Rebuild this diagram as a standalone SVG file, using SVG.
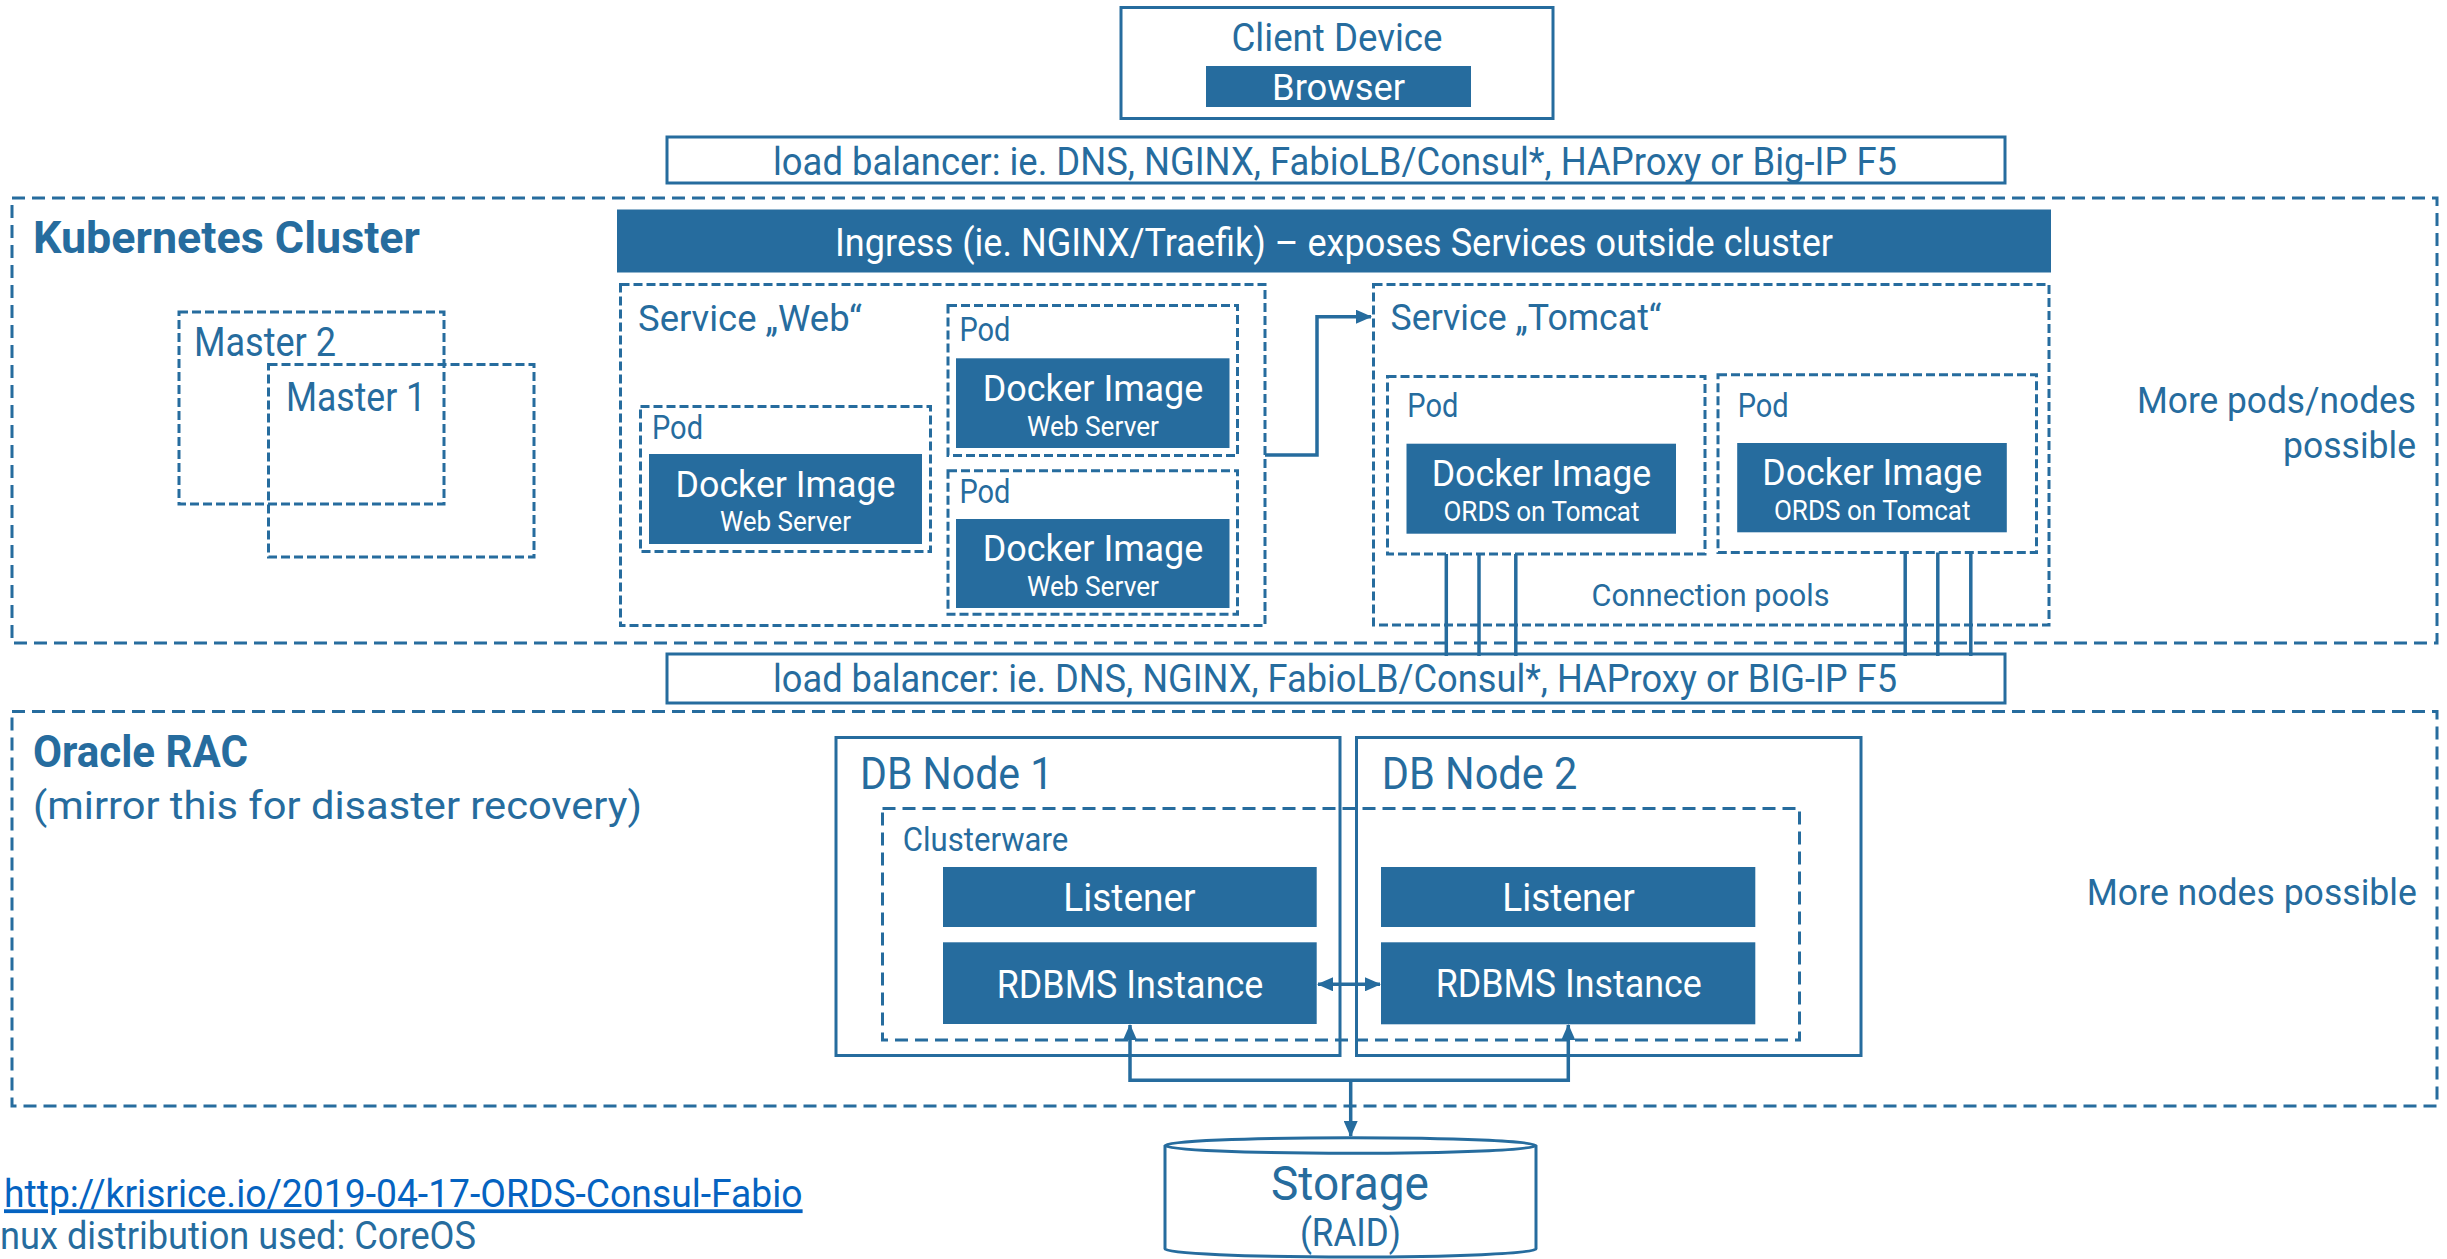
<svg xmlns="http://www.w3.org/2000/svg" width="2447" height="1259" viewBox="0 0 2447 1259">
<style>
.dl{fill:none;stroke:#266c9e;stroke-width:3;stroke-dasharray:13 7}
.ds{fill:none;stroke:#266c9e;stroke-width:3;stroke-dasharray:9 4}
.so{fill:none;stroke:#266c9e;stroke-width:3}
.bx{fill:#266c9e}
.t{font-family:Roboto,"Open Sans","Liberation Sans",sans-serif;fill:#266c9e}
.w{fill:#ffffff}
.b{font-weight:bold}
.m{text-anchor:middle}
.e{text-anchor:end}
.cn{fill:none;stroke:#266c9e;stroke-width:3.5}
</style>
<defs>
<marker id="ah" viewBox="0 0 16 14" refX="15" refY="7" markerWidth="16" markerHeight="14" markerUnits="userSpaceOnUse" orient="auto-start-reverse">
<path d="M0,0 L16,7 L0,14 z" fill="#266c9e"/>
</marker>
</defs>
<rect width="2447" height="1259" fill="#ffffff"/>

<g id="client-device">
<rect class="so" x="1121" y="7.5" width="432" height="111"/>
<text class="t m" x="1337" y="51" font-size="38" textLength="211" lengthAdjust="spacingAndGlyphs">Client Device</text>
<rect class="bx" x="1206" y="66" width="265" height="41"/>
<text class="t w m" x="1338.5" y="100" font-size="37" textLength="133" lengthAdjust="spacingAndGlyphs">Browser</text>
</g>

<g id="lb-top">
<rect class="so" x="667" y="137" width="1338" height="46"/>
<text class="t m" x="1335" y="175" font-size="39" textLength="1124" lengthAdjust="spacingAndGlyphs">load balancer: ie. DNS, NGINX, FabioLB/Consul*, HAProxy or Big-IP F5</text>
</g>

<g id="kubernetes-cluster">
<rect class="dl" x="12" y="198" width="2425" height="445"/>
<text class="t b" x="33" y="253" font-size="44" textLength="387" lengthAdjust="spacingAndGlyphs">Kubernetes Cluster</text>
<text class="t e" x="2416" y="413" font-size="36.5" textLength="279" lengthAdjust="spacingAndGlyphs">More pods/nodes</text>
<text class="t e" x="2416" y="458" font-size="36.5" textLength="133" lengthAdjust="spacingAndGlyphs">possible</text>
</g>

<g id="ingress">
<rect class="bx" x="617" y="209.5" width="1434" height="63"/>
<text class="t w m" x="1334" y="256" font-size="39" textLength="998" lengthAdjust="spacingAndGlyphs">Ingress (ie. NGINX/Traefik) – exposes Services outside cluster</text>
</g>

<g id="master-2">
<rect class="ds" x="179" y="312" width="265" height="192"/>
<text class="t" x="194" y="356" font-size="40" textLength="142" lengthAdjust="spacingAndGlyphs">Master 2</text>
</g>
<g id="master-1">
<rect class="ds" x="268.5" y="364.5" width="265.5" height="192.5"/>
<text class="t" x="286" y="411" font-size="40" textLength="140" lengthAdjust="spacingAndGlyphs">Master 1</text>
</g>

<g id="service-web">
<rect class="ds" x="620.5" y="284.5" width="644.5" height="341"/>
<text class="t" x="638" y="330.5" font-size="37.5" textLength="224" lengthAdjust="spacingAndGlyphs">Service „Web“</text>
</g>

<g id="web-pod-left">
<rect class="ds" x="640.5" y="406.5" width="290" height="145"/>
<text class="t" x="652" y="438.7" font-size="33" textLength="51" lengthAdjust="spacingAndGlyphs">Pod</text>
<rect class="bx" x="649" y="454" width="273" height="90"/>
<text class="t w m" x="785.5" y="496.5" font-size="37.5" textLength="220" lengthAdjust="spacingAndGlyphs">Docker Image</text>
<text class="t w m" x="785.5" y="531.4" font-size="27" textLength="131" lengthAdjust="spacingAndGlyphs">Web Server</text>
</g>

<g id="web-pod-top">
<rect class="ds" x="948" y="305.5" width="289.5" height="150"/>
<text class="t" x="959.4" y="340.7" font-size="33" textLength="51" lengthAdjust="spacingAndGlyphs">Pod</text>
<rect class="bx" x="956" y="358.3" width="273.5" height="89.7"/>
<text class="t w m" x="1093" y="400.7" font-size="37.5" textLength="220.6" lengthAdjust="spacingAndGlyphs">Docker Image</text>
<text class="t w m" x="1093" y="435.7" font-size="27" textLength="132" lengthAdjust="spacingAndGlyphs">Web Server</text>
</g>

<g id="web-pod-bottom">
<rect class="ds" x="948" y="470.7" width="289.5" height="143.5"/>
<text class="t" x="959.4" y="502.7" font-size="33" textLength="51" lengthAdjust="spacingAndGlyphs">Pod</text>
<rect class="bx" x="956" y="519" width="273.5" height="89"/>
<text class="t w m" x="1093" y="561.4" font-size="37.5" textLength="220.6" lengthAdjust="spacingAndGlyphs">Docker Image</text>
<text class="t w m" x="1093" y="596.4" font-size="27" textLength="132" lengthAdjust="spacingAndGlyphs">Web Server</text>
</g>

<g id="service-tomcat">
<rect class="ds" x="1373.5" y="284.5" width="675.5" height="340.5"/>
<text class="t" x="1390.5" y="330" font-size="37.5" textLength="271" lengthAdjust="spacingAndGlyphs">Service „Tomcat“</text>
<text class="t m" x="1710.5" y="606" font-size="32" textLength="238" lengthAdjust="spacingAndGlyphs">Connection pools</text>
</g>

<g id="tomcat-pod-1">
<rect class="ds" x="1387.5" y="376.5" width="317.5" height="177.5"/>
<text class="t" x="1407.3" y="416.7" font-size="33" textLength="51" lengthAdjust="spacingAndGlyphs">Pod</text>
<rect class="bx" x="1406.5" y="443.7" width="269.5" height="90"/>
<text class="t w m" x="1541.5" y="486" font-size="37.5" textLength="219.6" lengthAdjust="spacingAndGlyphs">Docker Image</text>
<text class="t w m" x="1541.5" y="521" font-size="27" textLength="196" lengthAdjust="spacingAndGlyphs">ORDS on Tomcat</text>
</g>

<g id="tomcat-pod-2">
<rect class="ds" x="1718" y="374.7" width="318.5" height="177.8"/>
<text class="t" x="1737.7" y="416.7" font-size="33" textLength="51" lengthAdjust="spacingAndGlyphs">Pod</text>
<rect class="bx" x="1737.2" y="443" width="269.6" height="89.3"/>
<text class="t w m" x="1872.2" y="485.3" font-size="37.5" textLength="220" lengthAdjust="spacingAndGlyphs">Docker Image</text>
<text class="t w m" x="1872.2" y="520.3" font-size="27" textLength="196.6" lengthAdjust="spacingAndGlyphs">ORDS on Tomcat</text>
</g>

<g id="lb-bottom">
<rect class="so" x="667" y="654" width="1338" height="49"/>
<text class="t m" x="1335" y="692" font-size="39" textLength="1124" lengthAdjust="spacingAndGlyphs">load balancer: ie. DNS, NGINX, FabioLB/Consul*, HAProxy or BIG-IP F5</text>
</g>

<g id="oracle-rac">
<rect class="dl" x="12" y="711.5" width="2425" height="394.5"/>
<text class="t b" x="33" y="767" font-size="44" textLength="215" lengthAdjust="spacingAndGlyphs">Oracle RAC</text>
<text class="t" x="33" y="818.5" font-size="38" textLength="609" lengthAdjust="spacingAndGlyphs">(mirror this for disaster recovery)</text>
<text class="t e" x="2416.8" y="905.3" font-size="36.5" textLength="330" lengthAdjust="spacingAndGlyphs">More nodes possible</text>
</g>

<g id="db-node-1">
<rect class="so" x="836" y="737.5" width="504" height="318"/>
<text class="t" x="860" y="789.3" font-size="45" textLength="193.3" lengthAdjust="spacingAndGlyphs">DB Node 1</text>
</g>
<g id="db-node-2">
<rect class="so" x="1356.5" y="737.5" width="504.5" height="318"/>
<text class="t" x="1381.7" y="789.3" font-size="45" textLength="195.6" lengthAdjust="spacingAndGlyphs">DB Node 2</text>
</g>

<g id="clusterware">
<rect class="dl" x="882.5" y="808.5" width="917" height="231.5"/>
<text class="t" x="902.7" y="850.7" font-size="33.5" textLength="165.6" lengthAdjust="spacingAndGlyphs">Clusterware</text>
</g>

<g id="listener-1">
<rect class="bx" x="943" y="867" width="373.7" height="60"/>
<text class="t w m" x="1129.5" y="911" font-size="39" textLength="132.3" lengthAdjust="spacingAndGlyphs">Listener</text>
</g>
<g id="rdbms-1">
<rect class="bx" x="943" y="942.3" width="373.7" height="81.7"/>
<text class="t w m" x="1130" y="997.7" font-size="38" textLength="266.6" lengthAdjust="spacingAndGlyphs">RDBMS Instance</text>
</g>
<g id="listener-2">
<rect class="bx" x="1381" y="867" width="374.3" height="60"/>
<text class="t w m" x="1568.5" y="911" font-size="39" textLength="132.4" lengthAdjust="spacingAndGlyphs">Listener</text>
</g>
<g id="rdbms-2">
<rect class="bx" x="1381" y="942.3" width="374.3" height="82"/>
<text class="t w m" x="1568.7" y="997.3" font-size="38" textLength="266" lengthAdjust="spacingAndGlyphs">RDBMS Instance</text>
</g>

<g id="storage">
<path d="M1165,1145.5 L1165,1249 A185.5,8 0 0 0 1536,1249 L1536,1145.5" fill="#ffffff" stroke="#266c9e" stroke-width="3"/>
<ellipse cx="1350.5" cy="1145.5" rx="185.5" ry="7.8" fill="#ffffff" stroke="#266c9e" stroke-width="3"/>
<text class="t m" x="1350" y="1200" font-size="49" textLength="158" lengthAdjust="spacingAndGlyphs">Storage</text>
<text class="t m" x="1350.4" y="1246" font-size="38" textLength="101" lengthAdjust="spacingAndGlyphs">(RAID)</text>
</g>

<g id="notes">
<text x="4" y="1207.3" font-size="38" textLength="798.6" lengthAdjust="spacingAndGlyphs" style="font-family:Roboto,'Open Sans','Liberation Sans',sans-serif;fill:#0563c1;text-decoration:underline">http://krisrice.io/2019-04-17-ORDS-Consul-Fabio</text>
<text class="t" x="0" y="1249.3" font-size="38" textLength="476" lengthAdjust="spacingAndGlyphs">nux distribution used: CoreOS</text>
</g>

<g id="connectors">
<path class="cn" d="M1265,455 H1317 V316.7 H1371" marker-end="url(#ah)"/>
<path class="cn" d="M1446.3,554 V656"/>
<path class="cn" d="M1479,554 V656"/>
<path class="cn" d="M1515.8,554 V656"/>
<path class="cn" d="M1905.2,552.5 V656"/>
<path class="cn" d="M1937.8,552.5 V656"/>
<path class="cn" d="M1970.8,552.5 V656"/>
<path class="cn" d="M1318,984.3 H1380" marker-start="url(#ah)" marker-end="url(#ah)"/>
<path class="cn" d="M1130,1025 V1080.3 H1568.3 V1025" marker-start="url(#ah)" marker-end="url(#ah)"/>
<path class="cn" d="M1350.7,1080.3 V1136" marker-end="url(#ah)"/>
</g>
</svg>
